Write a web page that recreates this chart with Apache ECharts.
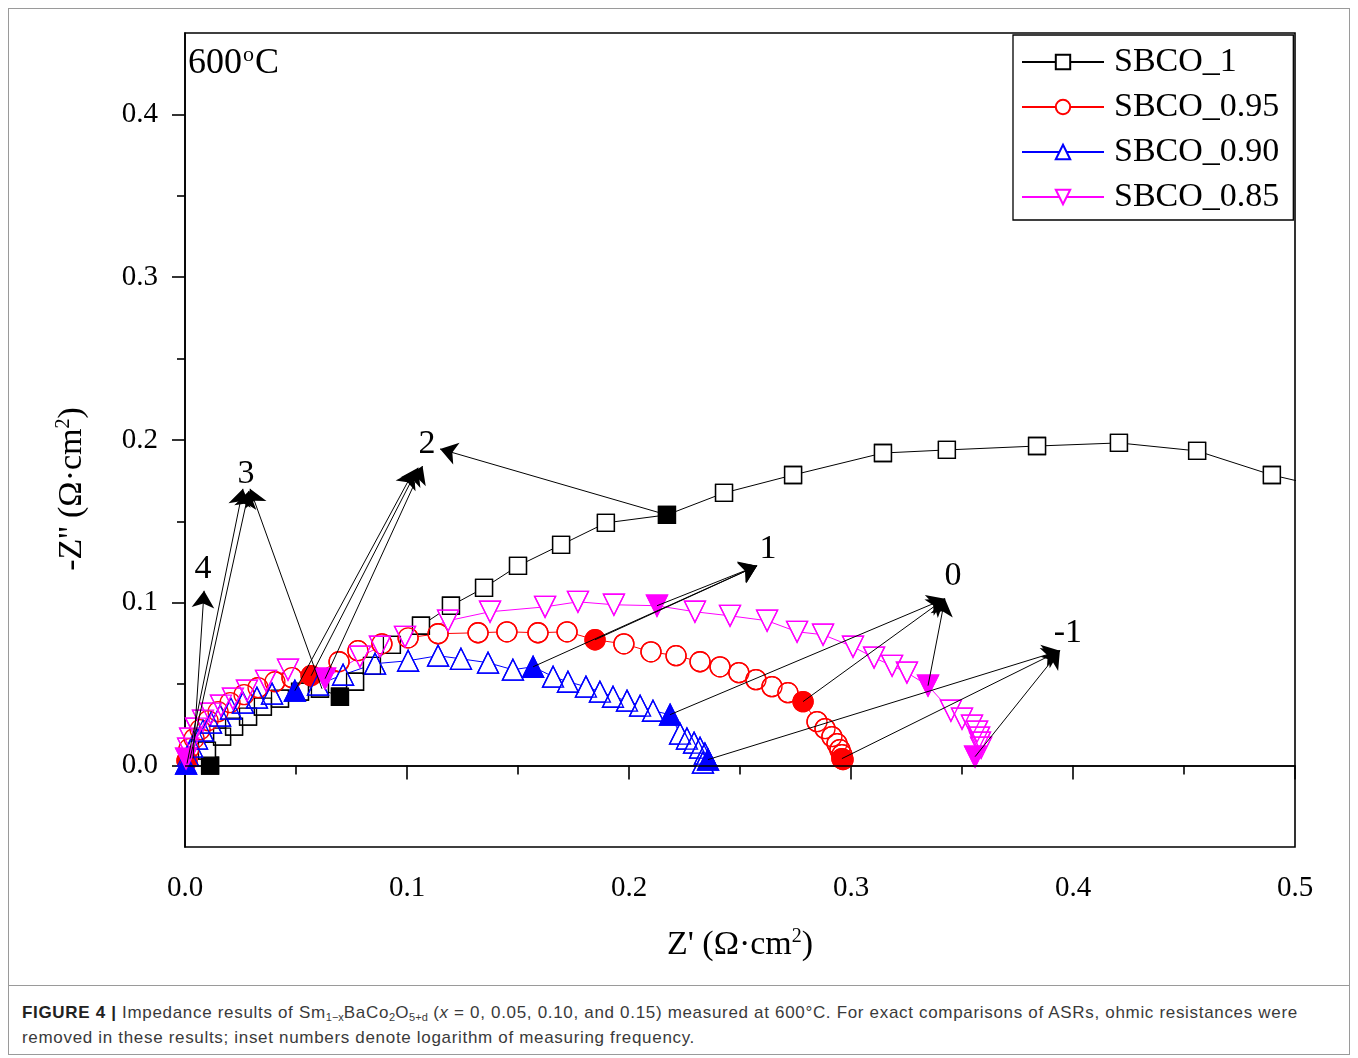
<!DOCTYPE html>
<html><head><meta charset="utf-8">
<script src="https://cdn.jsdelivr.net/npm/echarts@6/dist/echarts.min.js"></script>
<style>
html,body{margin:0;padding:0;background:#fff;}
#frame{position:absolute;left:8px;top:8px;width:1342px;height:1047px;border:1px solid #9a9a9a;box-sizing:border-box;}
#sep{position:absolute;left:8px;top:985px;width:1342px;height:0;border-top:1px solid #9a9a9a;}
#chart{position:absolute;left:0;top:0;width:1358px;height:985px;}
#cap{position:absolute;left:22px;top:1000px;width:1325px;font-family:"Liberation Sans",Arial,sans-serif;font-size:17px;letter-spacing:0.68px;line-height:25px;color:#3a3a3a;white-space:nowrap;}
#cap b{color:#222;}
#cap sub{font-size:11px;line-height:0;vertical-align:-3px;letter-spacing:0;}
</style></head>
<body>
<div id="frame"></div>
<div id="sep"></div>
<div id="chart"></div>
<div id="cap"><b>FIGURE 4 |</b> Impedance results of Sm<sub>1−x</sub>BaCo<sub>2</sub>O<sub>5+d</sub> (<i>x</i> = 0, 0.05, 0.10, and 0.15) measured at 600°C. For exact comparisons of ASRs, ohmic resistances were<br>removed in these results; inset numbers denote logarithm of measuring frequency.</div>
<script>
// ---- data ----
const xTicks = [0, 0.1, 0.2, 0.3, 0.4, 0.5];
const xMinorTicks = [0.05, 0.15, 0.25, 0.35, 0.45];
const yTicks = [0, 0.1, 0.2, 0.3, 0.4];
const yMinorTicks = [0.05, 0.15, 0.25, 0.35];
const seriesNames = ['SBCO_1', 'SBCO_0.95', 'SBCO_0.90', 'SBCO_0.85'];

const sbco1 = [[0.0113,0.000],[0.0099,0.0092],[0.0167,0.0178],[0.0221,0.0239],[0.0284,0.0301],[0.0351,0.0362],[0.0428,0.0411],[0.0518,0.0454],[0.0608,0.0472],[0.0698,0.0423],[0.0766,0.0515],[0.0842,0.0613],[0.0932,0.0742],[0.1063,0.0859],[0.1198,0.0982],[0.1347,0.1092],[0.1500,0.1227],[0.1694,0.1356],[0.1896,0.1491],[0.2171,0.1540],[0.2428,0.1675],[0.2739,0.1785],[0.3144,0.1920],[0.3432,0.1939],[0.3838,0.1963],[0.4207,0.1982],[0.4559,0.1933],[0.4896,0.1785],[0.5203,0.1687]];
const sbco095 = [[0.0009,0.0031],[0.0018,0.0104],[0.0041,0.0166],[0.0068,0.0221],[0.0104,0.0276],[0.0149,0.0331],[0.0203,0.0387],[0.0266,0.0436],[0.0329,0.0479],[0.0405,0.0515],[0.0482,0.0540],[0.0568,0.0552],[0.0694,0.0638],[0.0779,0.0706],[0.0887,0.0748],[0.1005,0.0785],[0.1140,0.0810],[0.1320,0.0816],[0.1450,0.0822],[0.1590,0.0816],[0.1721,0.0822],[0.1847,0.0773],[0.1977,0.0748],[0.2099,0.0699],[0.2212,0.0675],[0.2320,0.0638],[0.2410,0.0607],[0.2495,0.0571],[0.2572,0.0528],[0.2644,0.0485],[0.2716,0.0448],[0.2784,0.0393],[0.2847,0.0270],[0.2883,0.0227],[0.2914,0.0178],[0.2937,0.0135],[0.2950,0.0098],[0.2959,0.0067],[0.2964,0.0037],[0.2959,0.0043]];
const sbco090 = [[0.0005,0.0012],[0.0014,0.0061],[0.0032,0.0117],[0.0054,0.0166],[0.0081,0.0215],[0.0117,0.0264],[0.0158,0.0307],[0.0207,0.0350],[0.0261,0.0387],[0.0324,0.0417],[0.0392,0.0442],[0.0495,0.0460],[0.0599,0.0497],[0.0712,0.0558],[0.0856,0.0626],[0.1005,0.0644],[0.1140,0.0675],[0.1243,0.0656],[0.1365,0.0632],[0.1477,0.0589],[0.1568,0.0607],[0.1658,0.0546],[0.1725,0.0515],[0.1806,0.0485],[0.1869,0.0454],[0.1928,0.0423],[0.1991,0.0399],[0.2050,0.0368],[0.2108,0.0337],[0.2185,0.0313],[0.2230,0.0196],[0.2261,0.0166],[0.2293,0.0141],[0.2320,0.0110],[0.2342,0.0074],[0.2333,0.0018],[0.2356,0.0037]];
const sbco085 = [[0.0005,0.0043],[0.0014,0.0104],[0.0023,0.0166],[0.0050,0.0227],[0.0081,0.0276],[0.0117,0.0319],[0.0162,0.0368],[0.0216,0.0411],[0.0279,0.0460],[0.0365,0.0521],[0.0464,0.0589],[0.0631,0.0534],[0.0788,0.0669],[0.0878,0.0730],[0.0991,0.0791],[0.1185,0.0890],[0.1374,0.0945],[0.1622,0.0975],[0.1770,0.1006],[0.1932,0.0988],[0.2126,0.0982],[0.2297,0.0945],[0.2455,0.0920],[0.2622,0.0890],[0.2757,0.0822],[0.2874,0.0804],[0.3009,0.0730],[0.3104,0.0663],[0.3185,0.0613],[0.3252,0.0571],[0.3347,0.0491],[0.3450,0.0337],[0.3500,0.0288],[0.3545,0.0245],[0.3568,0.0209],[0.3577,0.0172],[0.3581,0.0141],[0.3586,0.0110],[0.3559,0.0055]];

// indices of points drawn as filled symbols (whole decades of frequency)
const filled1 = [0, 9, 19];
const filled095 = [0, 11, 21, 31, 39];
const filled090 = [0, 11, 20, 29, 36];
const filled085 = [0, 11, 20, 30, 38];

// inset labels: log10 of frequency
const insetLabels = [['4',0.0081,0.1209],['3',0.0275,0.1790],['2',0.1090,0.1975],['1',0.2626,0.1331],['0',0.3460,0.1166],['-1',0.3977,0.0816]];
// arrows: [fromX, fromY, toX, toY]
const arrows = [
 [0.0036,0.0043,0.0086,0.1074],
 [0.0009,0.0012,0.0261,0.1700],[0.0023,0.0043,0.0288,0.1687],[0.0617,0.0472,0.0293,0.1700],
 [0.0495,0.0460,0.1030,0.1810],[0.0568,0.0552,0.1050,0.1830],[0.0631,0.0534,0.1070,0.1840],
 [0.2171,0.1540,0.1149,0.1945],
 [0.1568,0.0607,0.2577,0.1227],[0.1847,0.0773,0.2577,0.1227],[0.2126,0.0982,0.2577,0.1227],
 [0.2185,0.0313,0.3423,0.1025],[0.2784,0.0393,0.3423,0.1025],[0.3347,0.0491,0.3423,0.1025],
 [0.2356,0.0037,0.3941,0.0706],[0.2959,0.0043,0.3941,0.0706],[0.3559,0.0055,0.3941,0.0706]
];

// ---- styling ----
const fam = '"Liberation Serif","Times New Roman",serif';
const cfg = [
 {name: seriesNames[0], data: sbco1, filled: filled1, color: '#000000', symbol: 'rect', size: 17, rot: 0},
 {name: seriesNames[1], data: sbco095, filled: filled095, color: '#ff0000', symbol: 'circle', size: 20, rot: 0},
 {name: seriesNames[2], data: sbco090, filled: filled090, color: '#0000ff', symbol: 'triangle', size: 21, rot: 0},
 {name: seriesNames[3], data: sbco085, filled: filled085, color: '#ff00ff', symbol: 'triangle', size: 21, rot: 180}
];

const series = [];
cfg.forEach(c => {
  series.push({
    type: 'line', name: c.name, data: c.data, symbol: c.symbol, symbolSize: c.size, symbolRotate: c.rot,
    showSymbol: true, silent: true, z: 2,
    lineStyle: {color: c.color, width: 1},
    itemStyle: {color: '#ffffff', borderColor: c.color, borderWidth: 1.3, opacity: 1}
  });
});
cfg.forEach((c, k) => {
  series.push({
    type: 'scatter', name: '_o' + k, symbol: c.symbol, symbolSize: c.size, symbolRotate: c.rot, silent: true, z: 3,
    itemStyle: {opacity: 1},
    data: c.data.map((p, i) => ({value: p, itemStyle: c.filled.includes(i)
      ? {color: c.color, borderColor: c.color, borderWidth: 1.3, opacity: 1}
      : {color: 'rgba(255,255,255,0)', borderColor: c.color, borderWidth: 1.3, opacity: 1}}))
  });
});
series.push({
  type: 'scatter', name: '_labels', symbolSize: 1, itemStyle: {color: 'rgba(0,0,0,0)', opacity: 1}, silent: true, z: 5,
  data: insetLabels.map(l => ({name: l[0], value: [l[1], l[2]]})),
  label: {show: true, position: 'inside', formatter: p => p.name, fontFamily: fam, fontSize: 34, color: '#000', opacity: 1},
  markLine: {
    silent: true, animation: false, symbol: ['none', 'arrow'], symbolSize: 17, precision: 4,
    label: {show: false}, lineStyle: {color: '#000', width: 1, type: 'solid', opacity: 1},
    itemStyle: {color: '#000'},
    data: arrows.map(a => [{coord: [a[0], a[1]]}, {coord: [a[2], a[3]]}])
  }
});
series.push({
  type: 'line', name: '_zero', data: [], silent: true, z: 1,
  markLine: {silent: true, animation: false, symbol: ['none', 'none'], label: {show: false},
    lineStyle: {color: '#000', width: 1.6, type: 'solid'}, data: [{yAxis: 0}]}
});

const chart = echarts.init(document.getElementById('chart'), null, {renderer: 'canvas'});
const sup = {fontSize: 20, fontFamily: fam, color: '#000', padding: [0, 0, 16, 0]};
chart.setOption({
  animation: false,
  backgroundColor: 'transparent',
  grid: {left: 185, top: 33, width: 1110, height: 814, show: true, borderColor: '#000', borderWidth: 1.6, backgroundColor: 'transparent'},
  legend: {
    data: seriesNames, orient: 'vertical', left: 1013, top: 35, itemWidth: 82, itemHeight: 18, itemGap: 11,
    padding: [10, 14, 6, 8], borderColor: '#000', borderWidth: 1.3, backgroundColor: '#fff',
    textStyle: {fontFamily: fam, fontSize: 34, color: '#000', padding: [0, 0, 0, 5]}
  },
  xAxis: [{
    type: 'value', min: 0, max: 0.5, position: 'bottom',
    name: "Z' (Ω·cm{s|2})", nameLocation: 'middle', nameGap: 80,
    nameTextStyle: {fontFamily: fam, fontSize: 34, color: '#000', rich: {s: sup}},
    axisLine: {show: true, lineStyle: {color: '#000', width: 1.6}},
    axisTick: {show: true, inside: false, length: 14, lineStyle: {color: '#000', width: 1.6}, customValues: xTicks},
    axisLabel: {customValues: xTicks, formatter: v => v.toFixed(1), margin: 27, fontFamily: fam, fontSize: 29, color: '#000'},
    splitLine: {show: false}
  }, {
    type: 'value', min: 0, max: 0.5, position: 'bottom', offset: 0,
    axisLine: {show: false},
    axisTick: {show: true, inside: false, length: 9, lineStyle: {color: '#000', width: 1.6}, customValues: xMinorTicks},
    axisLabel: {show: false}, splitLine: {show: false}
  }],
  yAxis: [{
    type: 'value', min: -0.05, max: 0.45, position: 'left',
    axisLine: {show: true, lineStyle: {color: '#000', width: 1.6}},
    axisTick: {show: true, inside: false, length: 13, lineStyle: {color: '#000', width: 1.6}, customValues: yTicks},
    axisLabel: {customValues: yTicks, formatter: v => v.toFixed(1), margin: 27, fontFamily: fam, fontSize: 29, color: '#000'},
    splitLine: {show: false}
  }, {
    type: 'value', min: -0.05, max: 0.45, position: 'left', offset: 0,
    axisLine: {show: false},
    axisTick: {show: true, inside: false, length: 8, lineStyle: {color: '#000', width: 1.6}, customValues: yMinorTicks},
    axisLabel: {show: false}, splitLine: {show: false}
  }],
  graphic: [
    {type: 'text', left: 188, top: 44, silent: true,
     style: {text: '600{s|o}C', fontFamily: fam, fontSize: 36, fill: '#000', rich: {s: {fontSize: 22, fontFamily: fam, fill: '#000', padding: [0, 1, 18, 1]}}}},
    {type: 'text', x: 72, y: 489, rotation: Math.PI / 2, silent: true,
     style: {text: "-Z'' (Ω·cm{s|2})", fontFamily: fam, fontSize: 34, fill: '#000', align: 'center', verticalAlign: 'middle',
             rich: {s: {fontSize: 20, fontFamily: fam, fill: '#000', padding: [0, 0, 16, 0]}}}}
  ],
  series: series
});
</script>
</body></html>
